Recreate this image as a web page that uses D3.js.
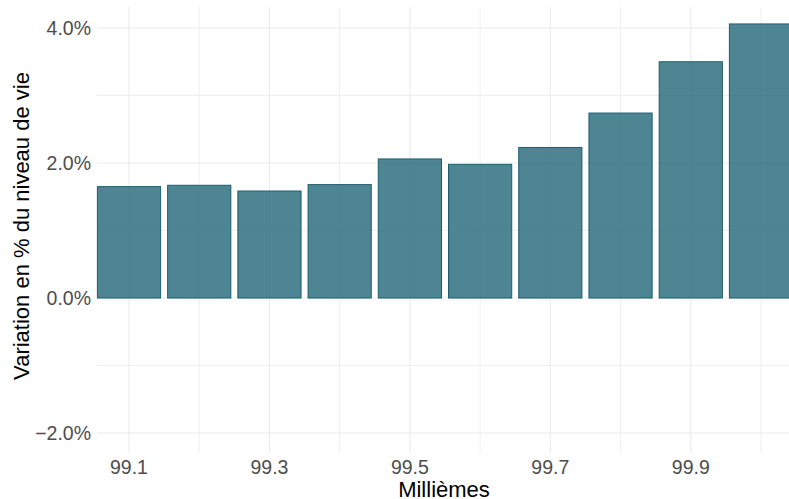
<!DOCTYPE html>
<html><head><meta charset="utf-8">
<script src="https://cdn.jsdelivr.net/npm/d3@7"></script>
<style>body{margin:0;background:#fff}svg{display:block}</style>
</head><body>
<script>
const milliemes = [99.1, 99.2, 99.3, 99.4, 99.5, 99.6, 99.7, 99.8, 99.9, 100.0];
const variation = [1.65, 1.67, 1.585, 1.68, 2.06, 1.98, 2.23, 2.74, 3.50, 4.06];
const xMajorTicks = [99.1, 99.3, 99.5, 99.7, 99.9];
const xMinorTicks = [99.2, 99.4, 99.6, 99.8, 100.0];
const yMajorTicks = [-2, 0, 2, 4];
const yMinorTicks = [-1, 1, 3];

const W = 789, H = 499;
const svg = d3.select("body").append("svg").attr("width", W).attr("height", H);
const font = "'Liberation Sans', Arial, sans-serif";

const x = d3.scaleLinear().domain([99.055, 100.045]).range([97.4, 792.6]);
const y = d3.scaleLinear().domain([-2.296, 4.311]).range([453, 7]);
const barW = x(99.09) - x(99.0);

const grid = svg.append("g");
grid.selectAll(".ym").data(yMinorTicks.concat(yMajorTicks)).join("line")
  .attr("x1", 97).attr("x2", W).attr("y1", d => y(d)).attr("y2", d => y(d))
  .attr("stroke", "#ebebeb").attr("stroke-width", d => yMajorTicks.includes(d) ? 1.1 : 0.8);
grid.selectAll(".xm").data(xMinorTicks.concat(xMajorTicks)).join("line")
  .attr("y1", 7).attr("y2", 453).attr("x1", d => x(d)).attr("x2", d => x(d))
  .attr("stroke", "#ebebeb").attr("stroke-width", d => xMajorTicks.includes(d) ? 1.1 : 0.8);

svg.append("g").selectAll("rect").data(milliemes).join("rect")
  .attr("x", d => x(d) - barW / 2)
  .attr("width", barW)
  .attr("y", (d, i) => y(Math.max(0, variation[i])))
  .attr("height", (d, i) => Math.abs(y(variation[i]) - y(0)))
  .attr("fill", "#226678").attr("fill-opacity", 0.8)
  .attr("stroke", "#1d5e6e").attr("stroke-width", 1);

const fmt = d => d.toFixed(1).replace("-", "\u2212") + "%";
svg.append("g").selectAll("text").data(yMajorTicks).join("text")
  .attr("x", 91).attr("y", d => y(d) + 7)
  .attr("text-anchor", "end").attr("font-family", font).attr("font-size", 19.5)
  .attr("fill", "#4d4d4d").text(fmt);

svg.append("g").selectAll("text").data(xMajorTicks).join("text")
  .attr("x", d => x(d)).attr("y", 473.5)
  .attr("text-anchor", "middle").attr("font-family", font).attr("font-size", 19.5)
  .attr("fill", "#4d4d4d").text(d => d.toFixed(1));

svg.append("text").attr("x", 444).attr("y", 496.5)
  .attr("text-anchor", "middle").attr("font-family", font).attr("font-size", 22)
  .attr("fill", "#000").text("Millièmes");

svg.append("text").attr("transform", `translate(28.5,226) rotate(-90)`)
  .attr("text-anchor", "middle").attr("font-family", font).attr("font-size", 22)
  .attr("fill", "#000").text("Variation en % du niveau de vie");
</script>
</body></html>
